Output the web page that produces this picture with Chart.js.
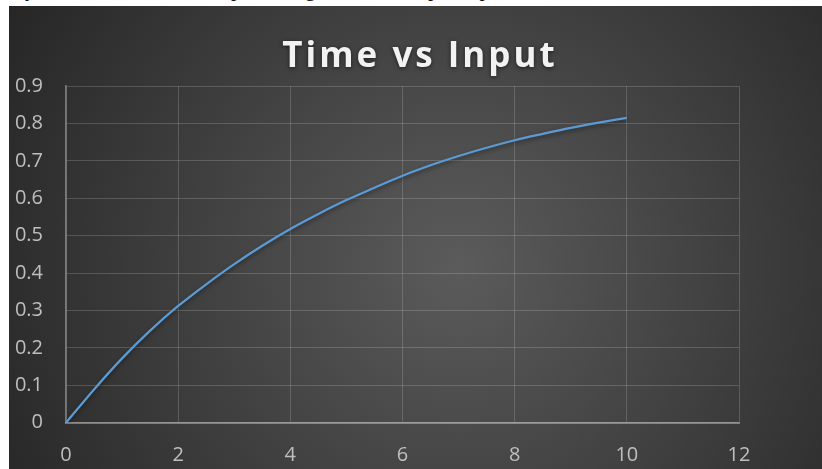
<!DOCTYPE html>
<html>
<head>
<meta charset="utf-8">
<script src="https://cdn.jsdelivr.net/npm/chart.js@4/dist/chart.umd.min.js"></script>
<style>
  body { margin: 0; background: #fff; width: 822px; height: 469px; overflow: hidden; position: relative; }
  /* pedacinho do texto do documento que aparece cortado em cima */
  #texto-topo { position: absolute; left: 0; top: 0; width: 822px; height: 6px; overflow: hidden; }
  #texto-topo span { position: absolute; left: -14px; top: -23px; font: 21px "Liberation Serif", serif; color: #000; white-space: nowrap; }
  #caixa { position: absolute; left: 9px; top: 6px; width: 813px; height: 463px; }
</style>
</head>
<body>
<div id="texto-topo"><span>the system is tested for the input voltage when the input is provided</span></div>
<div id="caixa"><canvas id="meuGrafico"></canvas></div>
<script>
// Dados (tempo x entrada)
const tempos = [0, 0.5, 1, 1.5, 2, 2.5, 3, 3.5, 4, 4.5, 5, 5.5, 6, 6.5, 7, 7.5, 8, 8.5, 9, 9.5, 10];
const valores = [0, 0.089, 0.172, 0.246, 0.312, 0.370, 0.424, 0.473, 0.518, 0.558, 0.595, 0.628, 0.660, 0.688, 0.713, 0.735, 0.755, 0.772, 0.788, 0.802, 0.815];
const rotulosX = ['0', '2', '4', '6', '8', '10', '12'];
const rotulosY = ['0', '0.1', '0.2', '0.3', '0.4', '0.5', '0.6', '0.7', '0.8', '0.9'];
const titulo = 'Time vs Input';

// Fundo escuro com degradê radial (estilo do Excel)
const fundo = {
    id: 'fundo',
    beforeDraw(chart) {
        const ctx = chart.ctx;
        const w = chart.width, h = chart.height;
        const g = ctx.createRadialGradient(450, 260, 0, 450, 260, 520);
        g.addColorStop(0, '#5b5b5b');
        g.addColorStop(1, '#262626');
        ctx.save();
        ctx.fillStyle = g;
        ctx.fillRect(0, 0, w, h);
        ctx.restore();
    }
};

// Título desenhado à mão para poder usar espaçamento entre letras
const tituloPlugin = {
    id: 'tituloPlugin',
    afterDraw(chart) {
        const ctx = chart.ctx;
        ctx.save();
        ctx.font = 'bold 35px "Open Sans"';
        ctx.letterSpacing = '3px';
        ctx.fillStyle = '#f2f2f2';
        ctx.textAlign = 'center';
        ctx.textBaseline = 'alphabetic';
        ctx.shadowColor = 'rgba(0,0,0,0.6)';
        ctx.shadowBlur = 4;
        ctx.shadowOffsetY = 1;
        ctx.fillText(titulo, 411, 61);
        ctx.restore();
    }
};

// Sombra leve embaixo da linha
const sombraLinha = {
    id: 'sombraLinha',
    beforeDatasetsDraw(chart) {
        chart.ctx.save();
        chart.ctx.shadowColor = 'rgba(0,0,0,0.45)';
        chart.ctx.shadowBlur = 4;
        chart.ctx.shadowOffsetY = 2;
    },
    afterDatasetsDraw(chart) {
        chart.ctx.restore();
    }
};

const ctx = document.getElementById('meuGrafico').getContext('2d');

new Chart(ctx, {
    type: 'line',
    data: {
        datasets: [{
            label: titulo,
            data: tempos.map((t, i) => ({ x: t, y: valores[i] })),
            borderColor: '#5b9bd5',
            borderWidth: 2.25,
            pointRadius: 0,
            cubicInterpolationMode: 'monotone',
            fill: false
        }]
    },
    options: {
        responsive: true,
        maintainAspectRatio: false,
        animation: false,
        layout: { padding: { top: 80, right: 83, bottom: 0, left: 0 } },
        plugins: {
            legend: { display: false },
            tooltip: { enabled: false }
        },
        scales: {
            x: {
                type: 'linear',
                min: 0,
                max: 12,
                afterFit: (s) => { s.height = 46.3; },
                afterBuildTicks: (s) => { s.ticks = rotulosX.map(Number).map(v => ({ value: v })); },
                ticks: {
                    callback: (v, i) => rotulosX[i],
                    color: '#bfbfbf',
                    font: { family: '"Open Sans"', size: 20 },
                    padding: 21,
                    maxRotation: 0
                },
                grid: { color: 'rgba(255,255,255,0.17)', lineWidth: 1, drawTicks: false },
                border: { color: 'rgba(255,255,255,0.35)', width: 2 }
            },
            y: {
                min: 0,
                max: 0.9,
                afterFit: (s) => { s.width = 57; },
                afterBuildTicks: (s) => { s.ticks = rotulosY.map(Number).map(v => ({ value: v })); },
                ticks: {
                    callback: (v, i) => rotulosY[i],
                    color: '#bfbfbf',
                    font: { family: '"Open Sans"', size: 20 },
                    padding: 23
                },
                grid: { color: 'rgba(255,255,255,0.17)', lineWidth: 1, drawTicks: false },
                border: { color: 'rgba(255,255,255,0.35)', width: 1.5 }
            }
        }
    },
    plugins: [fundo, tituloPlugin, sombraLinha]
});
</script>
</body>
</html>
